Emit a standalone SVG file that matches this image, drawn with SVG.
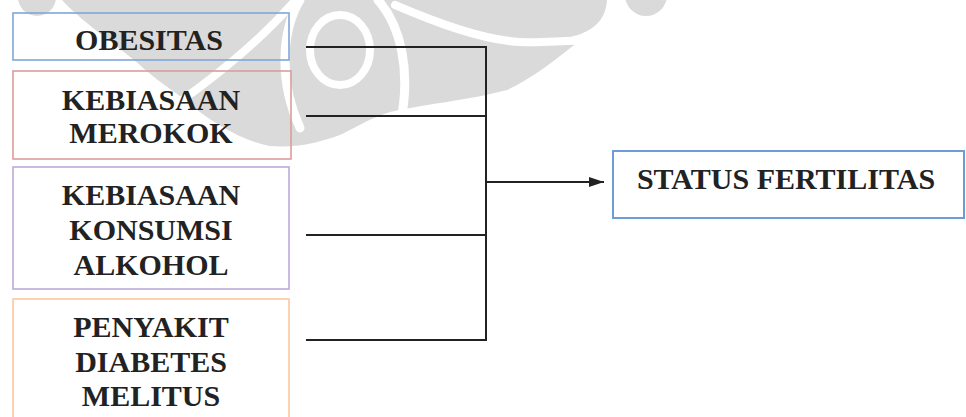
<svg xmlns="http://www.w3.org/2000/svg" width="966" height="417" viewBox="0 0 966 417">
  <style>
    .node rect { fill: none; stroke-width: 1.6; }
    .label { font-family: "Liberation Serif", "Times New Roman", serif; font-weight: bold; font-size: 30px; fill: #222; text-anchor: middle; }
    .wire { fill: none; stroke: #222; stroke-width: 2; }
    .mark { fill: #dadada; }
    .cut { fill: none; stroke: #fff; stroke-linecap: round; }
  </style>
  <defs>
    <marker id="arrow" viewBox="0 0 15 10" refX="15" refY="5" markerWidth="15" markerHeight="10" markerUnits="userSpaceOnUse" orient="auto">
      <path d="M0,0 L15,5 L0,10 Z" fill="#222"/>
    </marker>
  </defs>

  <!-- background emblem -->
  <g id="emblem">
    <circle class="mark" cx="37" cy="-3" r="19"/>
    <circle class="mark" cx="646" cy="-5" r="21"/>
    <path class="mark" d="M62,0 H607 C606,22 590,34 565,38 L578,42 C555,60 530,80 507,90 C470,100 420,105 390,112 C370,118 355,128 340,135 C320,142 300,148 270,146 C245,142 210,122 185,100 C165,85 150,75 140,65 C110,40 80,20 62,0 Z"/>
    <path class="cut" stroke-width="8" d="M395,5 C430,20 480,40 520,42 C545,43 565,40 582,41"/>
    <path class="cut" stroke-width="8" d="M293,3 C262,38 210,85 125,138"/>
    <path class="cut" stroke-width="9" d="M378,0 C400,25 412,70 400,125"/>
    <path class="cut" stroke-width="9" d="M300,0 C282,30 278,80 300,128"/>
    <ellipse class="cut" stroke-width="8" cx="340" cy="50" rx="30" ry="35"/>
  </g>

  <g id="obesitas" class="node">
    <rect x="13" y="13" width="276" height="47" stroke="#80a6d8"/>
    <text class="label" x="149" y="50">OBESITAS</text>
  </g>
  <g id="merokok" class="node">
    <rect x="13" y="71" width="278" height="88" stroke="#dc9c9c"/>
    <text class="label" x="151" y="110">KEBIASAAN</text>
    <text class="label" x="151" y="143">MEROKOK</text>
  </g>
  <g id="alkohol" class="node">
    <rect x="13" y="167" width="276" height="122" stroke="#bcaad8"/>
    <text class="label" x="151" y="205">KEBIASAAN</text>
    <text class="label" x="151" y="240">KONSUMSI</text>
    <text class="label" x="151" y="275">ALKOHOL</text>
  </g>
  <g id="diabetes" class="node">
    <rect x="13" y="299" width="276" height="130" stroke="#fbc9a2"/>
    <text class="label" x="151" y="337">PENYAKIT</text>
    <text class="label" x="151" y="372">DIABETES</text>
    <text class="label" x="151" y="406">MELITUS</text>
  </g>
  <g id="fertilitas" class="node">
    <rect x="613" y="151" width="351" height="67" stroke="#6e9cd8" style="stroke-width:2"/>
    <text class="label" x="786" y="189">STATUS FERTILITAS</text>
  </g>

  <g id="connectors">
    <path class="wire" d="M306,47 H486 M306,116 H486 M306,235 H486 M306,340 H486 M486,46 V341"/>
    <path class="wire" d="M486,182 H604" marker-end="url(#arrow)"/>
  </g>
</svg>
